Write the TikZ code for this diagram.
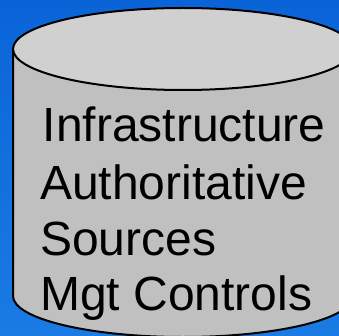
\documentclass[tikz,border=0pt]{standalone}
\usepackage{fontspec}
\setmainfont{Liberation Sans}
\definecolor{bgtop}{HTML}{0A64D8}
\definecolor{bgbot}{HTML}{1A7BE4}
\definecolor{cyltop}{HTML}{D0D0D0}
\definecolor{cylbody}{HTML}{C0C0C0}
\tikzset{
  cyltext/.style={anchor=base west, inner sep=0pt, font=\fontsize{48}{56}\selectfont, text=black},
  outline/.style={draw=black, line width=2pt}
}
\begin{document}
\begin{tikzpicture}[x=1pt,y=1pt]
\useasboundingbox (0,0) rectangle (339,335);
\clip (0,0) rectangle (339,335);
\shade[top color=bgtop, bottom color=bgbot] (0,0) rectangle (339,335);
% body
\path[outline, fill=cylbody] (13,286) -- (13,39) arc[start angle=180, end angle=360, x radius=170, y radius=41] -- (353,286) -- cycle;
% top
\path[outline, fill=cyltop] (183,286) ellipse[x radius=170, y radius=41];
\node[cyltext] (l1) at (42.5,193.5) {Infrastructure};
\node[cyltext] (l2) at (40,136) {Authoritative};
\node[cyltext] (l3) at (40,80) {Sources};
\node[cyltext] (l4) at (40,24.5) {Mgt Controls};
\end{tikzpicture}
\end{document}
